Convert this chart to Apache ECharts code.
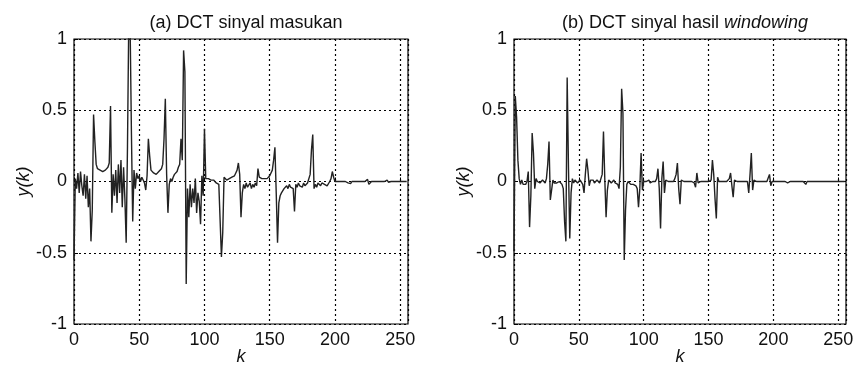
<!DOCTYPE html>
<html>
<head>
<meta charset="utf-8">
<script src="https://cdn.jsdelivr.net/npm/echarts@6/dist/echarts.min.js"></script>
<style>
  html, body { margin: 0; padding: 0; background: #fff; }
  #chart { width: 854px; height: 365px; }
</style>
</head>
<body>
<div id="chart"></div>
<script>
// DCT koefisien, k = 0..255
const dctInput = [
  -0.55, 0.02, -0.05, 0.06, -0.08, 0.07, -0.03, -0.10, 0.05, -0.12,
  0.04, -0.18, -0.05, -0.42, -0.20, 0.47, 0.28, 0.12, 0.09, 0.10,
  0.08, 0.09, 0.07, 0.06, 0.08, 0.07, 0.10, 0.13, 0.53, -0.22,
  0.05, -0.10, 0.08, -0.15, 0.12, -0.08, 0.15, -0.18, 0.10, -0.12,
  -0.43, 0.25, 1.15, 1.10, 0.35, -0.28, 0.08, -0.05, 0.06, 0.02,
  0.04, 0.00, 0.03, 0.01, -0.01, -0.06, 0.04, 0.30, 0.18, 0.08,
  0.07, 0.06, 0.06, 0.05, 0.06, 0.07, 0.08, 0.09, 0.12, 0.30,
  0.58, 0.05, -0.22, -0.02, 0.02, 0.00, 0.03, 0.05, 0.04, 0.07,
  0.10, 0.12, 0.30, 0.15, 0.92, 0.77, -0.72, -0.05, -0.25, -0.02,
  -0.18, -0.05, -0.15, 0.02, -0.22, -0.08, -0.14, -0.30, 0.04, -0.10,
  0.37, 0.02, 0.01, 0.02, 0.01, 0.01, 0.00, 0.01, 0.00, -0.01,
  0.00, -0.02, -0.03, -0.53, -0.36, 0.03, 0.02, 0.01, 0.02, 0.02,
  0.03, 0.03, 0.04, 0.04, 0.06, 0.08, 0.13, 0.05, -0.25, -0.08,
  -0.02, -0.05, -0.01, -0.04, -0.03, -0.01, -0.05, -0.02, -0.04, -0.01,
  -0.03, 0.09, 0.03, 0.02, 0.02, 0.02, 0.02, 0.03, 0.02, 0.03,
  0.04, 0.05, 0.08, 0.15, 0.24, -0.08, -0.43, -0.15, -0.10, -0.08,
  -0.07, -0.05, -0.06, -0.03, -0.05, -0.02, -0.04, -0.03, -0.05, -0.21,
  -0.02, -0.04, -0.01, -0.03, -0.02, -0.04, -0.01, -0.03, -0.02, -0.01,
  0.00, 0.05, 0.22, 0.33, -0.05, -0.02, -0.04, -0.01, -0.02, -0.03,
  -0.01, -0.02, -0.02, -0.01, -0.03, -0.02, 0.00, 0.02, 0.07, 0.03,
  0.00, 0.01, 0.00, 0.00, 0.00, -0.01, 0.00, 0.00, 0.00, 0.00,
  -0.01, 0.00, -0.015, 0.00, 0.00, 0.00, 0.00, 0.00, 0.00, 0.00,
  0.00, 0.00, 0.00, 0.00, 0.01, 0.015, -0.02, -0.01, 0.00, 0.00,
  0.00, 0.00, 0.00, 0.00, 0.00, 0.00, 0.00, 0.00, 0.00, 0.00,
  0.01, -0.005, 0.00, 0.00, 0.00, 0.00, 0.00, 0.00, 0.00, 0.00,
  0.00, 0.00, 0.00, 0.00, 0.00, 0.00
];

const dctWindowed = [
  -0.49, 0.60, 0.45, 0.15, 0.02, -0.02, 0.01, -0.02, -0.01, -0.02,
  0.00, 0.07, -0.32, -0.10, 0.34, 0.20, -0.05, 0.02, 0.00, 0.01,
  -0.01, 0.00, 0.01, 0.00, -0.01, 0.02, 0.12, 0.28, -0.13, -0.12,
  0.01, -0.01, -0.02, -0.01, -0.02, 0.00, -0.01, -0.02, -0.05, -0.28,
  -0.42, 0.73, 0.10, -0.40, -0.08, 0.02, -0.01, 0.01, 0.00, -0.01,
  0.00, 0.01, 0.00, -0.02, -0.08, 0.05, 0.16, 0.08, -0.03, 0.01,
  0.00, 0.01, -0.01, 0.00, 0.01, 0.00, -0.01, -0.02, 0.05, 0.35,
  0.02, -0.25, -0.06, 0.01, 0.00, -0.01, 0.00, 0.01, -0.01, 0.00,
  -0.02, -0.05, 0.10, 0.65, 0.48, -0.55, -0.20, -0.02, 0.00, -0.01,
  -0.02, -0.01, -0.02, -0.01, -0.03, -0.05, -0.18, -0.05, 0.20, -0.06,
  0.00, 0.01, 0.00, 0.00, 0.01, -0.01, 0.00, 0.00, 0.01, 0.00,
  0.02, 0.09, -0.05, -0.33, 0.02, 0.14, -0.08, 0.01, 0.00, 0.00,
  0.00, 0.00, 0.01, 0.00, 0.02, 0.05, 0.13, -0.05, -0.16, 0.01,
  0.00, 0.00, 0.00, 0.00, 0.00, 0.00, 0.00, 0.00, 0.00, -0.01,
  -0.04, 0.06, -0.01, 0.00, 0.00, 0.00, 0.00, 0.00, 0.00, 0.00,
  0.00, 0.00, 0.01, 0.15, 0.05, -0.12, -0.26, 0.03, 0.00, 0.00,
  0.00, 0.00, 0.00, 0.00, 0.00, -0.01, 0.02, 0.06, -0.03, -0.11,
  0.01, 0.00, 0.00, 0.00, 0.00, 0.00, 0.00, 0.00, 0.00, 0.00,
  0.00, -0.08, 0.05, 0.20, -0.06, 0.01, 0.00, 0.00, 0.00, 0.00,
  0.00, 0.00, 0.00, 0.00, 0.00, 0.00, 0.00, 0.05, -0.03, 0.00,
  0.00, 0.00, 0.00, 0.00, 0.00, 0.00, 0.00, 0.00, 0.00, 0.00,
  0.00, -0.01, 0.00, 0.00, 0.00, 0.00, 0.00, 0.00, 0.00, 0.00,
  0.00, 0.00, 0.00, 0.00, 0.01, -0.02, 0.00, 0.00, 0.00, 0.00,
  0.00, 0.00, 0.00, 0.00, 0.00, 0.00, 0.00, 0.00, 0.00, 0.00,
  0.00, 0.005, 0.00, 0.00, 0.00, 0.00, 0.00, 0.00, 0.00, 0.00,
  0.00, 0.00, 0.00, 0.00, 0.00, 0.00
];

const xTicks = [0, 50, 100, 150, 200, 250];
const yTicks = [-1, -0.5, 0, 0.5, 1];

const FONT = 'Liberation Sans, Arial, sans-serif';
const FS = 18;

function toPairs(values) {
    return values.map((v, k) => [k, v]);
}

function makeXAxis(gridIndex) {
    return {
        type: 'value',
        gridIndex: gridIndex,
        min: 0,
        max: 256,
        interval: 50,
        name: 'k',
        nameLocation: 'middle',
        nameGap: 24,
        nameMoveOverlap: false,
        nameTextStyle: { fontFamily: FONT, fontSize: FS, fontStyle: 'italic', color: '#111' },
        axisLine: { show: false },
        axisTick: { show: true, inside: true, length: 4, lineStyle: { color: '#000' } },
        axisLabel: {
            fontFamily: FONT, fontSize: FS, color: '#111', margin: 7,
            showMaxLabel: false,
            formatter: v => (xTicks.indexOf(v) >= 0 ? String(v) : '')
        },
        splitLine: { show: true, lineStyle: { color: '#000', type: [2, 3], width: 1.2 } }
    };
}

function makeYAxis(gridIndex) {
    return {
        type: 'value',
        gridIndex: gridIndex,
        min: yTicks[0],
        max: yTicks[yTicks.length - 1],
        interval: 0.5,
        name: 'y(k)',
        nameLocation: 'middle',
        nameGap: 41,
        nameMoveOverlap: false,
        nameTextStyle: { fontFamily: FONT, fontSize: FS, fontStyle: 'italic', color: '#111' },
        axisLine: { show: false },
        axisTick: { show: true, inside: true, length: 4, lineStyle: { color: '#000' } },
        axisLabel: { fontFamily: FONT, fontSize: FS, color: '#111', margin: 7 },
        splitLine: { show: true, lineStyle: { color: '#000', type: [2, 3], width: 1.2 } }
    };
}

const chart = echarts.init(document.getElementById('chart'));

const option = {
    animation: false,
    backgroundColor: '#fff',
    title: [
        {
            text: '(a) DCT sinyal masukan',
            left: 241, top: 9, textAlign: 'center',
            textStyle: { fontFamily: FONT, fontSize: FS, fontWeight: 'normal', color: '#111' }
        },
        {
            text: '{n|(b) DCT sinyal hasil }{i|windowing}',
            left: 680, top: 9, textAlign: 'center',
            textStyle: {
                fontFamily: FONT, fontSize: FS, fontWeight: 'normal', color: '#111',
                rich: {
                    n: { fontFamily: FONT, fontSize: FS, color: '#111' },
                    i: { fontFamily: FONT, fontSize: FS, fontStyle: 'italic', color: '#111' }
                }
            }
        }
    ],
    // outerBoundsMode none: jangan biarkan ECharts mengecilkan grid
    grid: [
        { left: 74, top: 39, width: 334, height: 285, outerBoundsMode: 'none', show: true, borderColor: '#000', borderWidth: 1.2, backgroundColor: '#fff' },
        { left: 514, top: 39, width: 332, height: 285, outerBoundsMode: 'none', show: true, borderColor: '#000', borderWidth: 1.2, backgroundColor: '#fff' }
    ],
    xAxis: [makeXAxis(0), makeXAxis(1)],
    yAxis: [makeYAxis(0), makeYAxis(1)],
    series: [
        {
            type: 'line', xAxisIndex: 0, yAxisIndex: 0,
            data: toPairs(dctInput),
            showSymbol: false, clip: true,
            lineStyle: { color: '#222', width: 1.4 }
        },
        {
            type: 'line', xAxisIndex: 1, yAxisIndex: 1,
            data: toPairs(dctWindowed),
            showSymbol: false, clip: true,
            lineStyle: { color: '#222', width: 1.4 }
        }
    ]
};

chart.setOption(option);
</script>
</body>
</html>
